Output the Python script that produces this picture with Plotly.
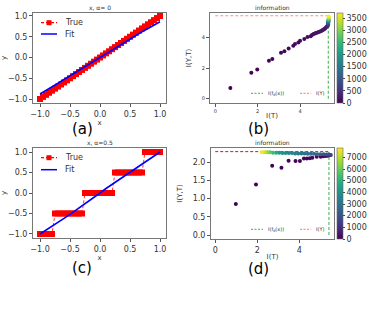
import plotly.graph_objects as go

W, H = 378, 315

# ---------------- data ----------------
x_grid = [-1.0, -0.95, -0.9, -0.85, -0.8, -0.75, -0.7, -0.65, -0.6, -0.55, -0.5, -0.45, -0.4,
          -0.35, -0.3, -0.25, -0.2, -0.15, -0.1, -0.05, 0.0, 0.05, 0.1, 0.15, 0.2, 0.25, 0.3,
          0.35, 0.4, 0.45, 0.5, 0.55, 0.6, 0.65, 0.7, 0.75, 0.8, 0.85, 0.9, 0.95, 1.0]
y_true_a = [-1.0, -0.95, -0.9, -0.85, -0.8, -0.75, -0.7, -0.65, -0.6, -0.55, -0.5, -0.45, -0.4,
            -0.35, -0.3, -0.25, -0.2, -0.15, -0.1, -0.05, 0.0, 0.05, 0.1, 0.15, 0.2, 0.25, 0.3,
            0.35, 0.4, 0.45, 0.5, 0.55, 0.6, 0.65, 0.7, 0.75, 0.8, 0.85, 0.9, 0.95, 1.0]
x_fit = [-1.0, -0.9, -0.8, -0.7, -0.6, -0.5, -0.4, -0.3, -0.2, -0.1, 0.0,
         0.1, 0.2, 0.3, 0.4, 0.5, 0.6, 0.7, 0.8, 0.9, 1.0]
y_fit_a = [-0.88, -0.80, -0.71, -0.62, -0.53, -0.44, -0.35, -0.26, -0.17, -0.09, 0.0,
           0.09, 0.18, 0.27, 0.36, 0.45, 0.54, 0.62, 0.70, 0.78, 0.86]

y_true_c = [-1.0, -1.0, -1.0, -1.0, -1.0, -0.5, -0.5, -0.5, -0.5, -0.5, -0.5, -0.5, -0.5,
            -0.5, -0.5, 0.0, 0.0, 0.0, 0.0, 0.0, 0.0, 0.0, 0.0, 0.0, 0.0, 0.5, 0.5,
            0.5, 0.5, 0.5, 0.5, 0.5, 0.5, 0.5, 0.5, 1.0, 1.0, 1.0, 1.0, 1.0, 1.0]
y_fit_c = [-1.0, -0.91, -0.82, -0.72, -0.62, -0.52, -0.42, -0.32, -0.21, -0.11, 0.0,
           0.11, 0.21, 0.32, 0.42, 0.52, 0.62, 0.72, 0.82, 0.91, 1.0]

I_T_b = [0.71, 1.70, 1.98, 2.53, 2.69, 3.10, 3.26, 3.46, 3.68, 3.76, 3.92, 4.00, 4.20, 4.35,
         4.50, 4.56, 4.63, 4.70, 4.75, 4.82, 4.88, 4.94, 5.00, 5.05, 5.10, 5.14, 5.18, 5.22,
         5.26, 5.30, 5.31, 5.32, 5.32, 5.33, 5.33, 5.34, 5.34, 5.34, 5.35, 5.35, 5.35]
I_YT_b = [0.70, 1.70, 1.91, 2.48, 2.59, 3.00, 3.09, 3.28, 3.46, 3.57, 3.67, 3.78, 3.89, 4.02,
          4.07, 4.15, 4.22, 4.25, 4.28, 4.32, 4.35, 4.38, 4.41, 4.46, 4.50, 4.54, 4.58, 4.64,
          4.71, 4.75, 4.80, 4.85, 4.90, 4.95, 5.00, 5.05, 5.10, 5.15, 5.22, 5.30, 5.36]
epoch_b = [0, 10, 20, 30, 40, 50, 60, 70, 80, 90, 100, 110, 120, 130,
           140, 150, 160, 170, 180, 190, 200, 210, 220, 230, 240, 250, 260, 270,
           280, 350, 450, 600, 800, 1000, 1300, 1600, 2000, 2400, 2900, 3300, 3700]
I_Y_b = 5.41
I_f_b = 5.33

I_T_d = [0.98, 1.94, 2.71, 3.15, 3.49, 3.82, 4.03, 4.22, 4.36, 4.50, 4.62, 4.83, 5.02, 5.15,
         5.26, 5.35, 5.45,
         5.50, 5.40, 5.30, 5.15, 5.00, 4.85, 4.70, 4.55, 4.40, 4.25, 4.10, 3.95, 3.80, 3.65,
         3.50, 3.35, 3.20, 3.05, 2.90, 2.75, 2.60, 2.50, 2.40, 2.30, 2.22]
I_YT_d = [0.85, 1.39, 1.90, 1.85, 2.04, 2.03, 2.03, 2.10, 2.10, 2.11, 2.12, 2.15, 2.15, 2.16,
          2.17, 2.18, 2.19,
          2.20, 2.21, 2.21, 2.22, 2.22, 2.22, 2.23, 2.23, 2.23, 2.24, 2.24, 2.24, 2.24, 2.25,
          2.25, 2.25, 2.25, 2.26, 2.26, 2.26, 2.27, 2.27, 2.27, 2.27, 2.27]
epoch_d = [0, 10, 20, 30, 40, 50, 60, 70, 80, 90, 100, 120, 140, 160,
           180, 200, 250,
           1500, 1700, 1900, 2100, 2300, 2500, 2700, 2800, 2900, 3000, 3100, 3200, 3300, 3400,
           3600, 3800, 4000, 4300, 4700, 5300, 5800, 6300, 6800, 7300, 7700]
I_Y_d = 2.29
I_f_d = 5.41

FONT = "DejaVu Sans"
TXT = "#333333"


def fx(p):
    return p / W


def fy(p):
    return 1 - p / H


fig = go.Figure()

# (a)
fig.add_trace(go.Scatter(x=x_grid, y=y_true_a, mode="lines+markers", name="True",
                         line=dict(color="red", width=1.2, dash="3px,2px"),
                         marker=dict(symbol="square", size=6, color="red"),
                         xaxis="x", yaxis="y", showlegend=False))
fig.add_trace(go.Scatter(x=x_fit, y=y_fit_a, mode="lines", name="Fit",
                         line=dict(color="blue", width=1.6),
                         xaxis="x", yaxis="y", showlegend=False))
# (c)
fig.add_trace(go.Scatter(x=x_grid, y=y_true_c, mode="lines+markers", name="True",
                         line=dict(color="red", width=0.8, dash="3px,2px"),
                         marker=dict(symbol="square", size=6, color="red"),
                         xaxis="x3", yaxis="y3", showlegend=False))
fig.add_trace(go.Scatter(x=x_fit, y=y_fit_c, mode="lines", name="Fit",
                         line=dict(color="blue", width=1.6),
                         xaxis="x3", yaxis="y3", showlegend=False))

# (b)
fig.add_trace(go.Scatter(x=[0, I_f_b], y=[I_Y_b, I_Y_b], mode="lines", showlegend=False,
                         line=dict(color="rgba(255,60,60,0.6)", width=1, dash="3px,2px"),
                         xaxis="x2", yaxis="y2"))
fig.add_trace(go.Scatter(x=[I_f_b, I_f_b], y=[0, I_Y_b], mode="lines", showlegend=False,
                         line=dict(color="#3cb043", width=1, dash="3px,2px"),
                         xaxis="x2", yaxis="y2"))
fig.add_trace(go.Scatter(x=I_T_b, y=I_YT_b, mode="markers", showlegend=False,
                         marker=dict(size=4, color=epoch_b, colorscale="Viridis", cmin=0, cmax=3706,
                                     colorbar=dict(x=fx(337), xanchor="left", xpad=0, ypad=0,
                                                   y=fy(13), yanchor="top", len=90 / H,
                                                   thickness=6, outlinewidth=0.6, outlinecolor="#666",
                                                   tickvals=[0, 500, 1000, 1500, 2000, 2500, 3000, 3500],
                                                   ticktext=["0", "500", "1000", "1500", "2000", "2500", "3000", "3500"],
                                                   ticks="outside", ticklen=2,
                                                   tickfont=dict(size=8, color=TXT, family=FONT))),
                         xaxis="x2", yaxis="y2"))

# (d)
fig.add_trace(go.Scatter(x=[0, I_f_d], y=[I_Y_d, I_Y_d], mode="lines", showlegend=False,
                         line=dict(color="red", width=1, dash="3px,2px"),
                         xaxis="x4", yaxis="y4"))
fig.add_trace(go.Scatter(x=[I_f_d, I_f_d], y=[0, I_Y_d], mode="lines", showlegend=False,
                         line=dict(color="#3cb043", width=1, dash="3px,2px"),
                         xaxis="x4", yaxis="y4"))
fig.add_trace(go.Scatter(x=I_T_d, y=I_YT_d, mode="markers", showlegend=False,
                         marker=dict(size=4, color=epoch_d, colorscale="Viridis", cmin=0, cmax=7800,
                                     colorbar=dict(x=fx(337), xanchor="left", xpad=0, ypad=0,
                                                   y=fy(148), yanchor="top", len=91 / H,
                                                   thickness=6, outlinewidth=0.6, outlinecolor="#666",
                                                   tickvals=[0, 1000, 2000, 3000, 4000, 5000, 6000, 7000],
                                                   ticktext=["0", "1000", "2000", "3000", "4000", "5000", "6000", "7000"],
                                                   ticks="outside", ticklen=2,
                                                   tickfont=dict(size=8, color=TXT, family=FONT))),
                         xaxis="x4", yaxis="y4"))


def ax(domain, rng, tickvals, fmt, size, title, anchor, tsize=7, standoff=2):
    return dict(domain=domain, range=rng, tickvals=tickvals, tickformat=fmt,
                showgrid=False, zeroline=False, showline=True, mirror=True,
                linecolor="#777", linewidth=1, ticks="outside", ticklen=3, tickcolor="#555",
                tickfont=dict(size=size, color=TXT, family=FONT),
                title=dict(text=title, font=dict(size=tsize, color=TXT, family=FONT), standoff=standoff),
                anchor=anchor, automargin=False)


ab_x = [fx(33), fx(166)]
fig.update_layout(
    width=W, height=H, margin=dict(l=0, r=0, t=0, b=0, autoexpand=False),
    paper_bgcolor="white", plot_bgcolor="white",
    font=dict(family=FONT, color=TXT),
    xaxis=ax(ab_x, [-1.117, 1.1], [-1, -0.5, 0, 0.5, 1], ".1f", 8, "x", "y"),
    yaxis=ax([fy(103), fy(13)], [-1.096, 1.072], [-1, -0.5, 0, 0.5, 1], ".1f", 8, "y", "x"),
    xaxis2=ax([fx(210), fx(334)], [-0.25, 5.6], [0, 2, 4], "d", 5, "I(T)", "y2", 7, 0),
    yaxis2=ax([fy(103), fy(13)], [-0.28, 5.59], [0, 2, 4], "d", 5, "I(Y,T)", "x2", 7, 9),
    xaxis3=ax(ab_x, [-1.117, 1.1], [-1, -0.5, 0, 0.5, 1], ".1f", 8, "x", "y3"),
    yaxis3=ax([fy(238), fy(148)], [-1.098, 1.098], [-1, -0.5, 0, 0.5, 1], ".1f", 8, "y", "x3"),
    xaxis4=ax([fx(211), fx(334)], [-0.2, 5.65], [0, 2, 4], "d", 8, "I(T)", "y4", 7, 0),
    yaxis4=ax([fy(239), fy(148)], [-0.11, 2.39], [0, 0.5, 1, 1.5, 2], ".1f", 8, "I(Y,T)", "x4", 7, 9),
    showlegend=False,
)

anns = [
    dict(x=fx(99.5), y=fy(7), text="x, α= 0", font=dict(size=6)),
    dict(x=fx(99.5), y=fy(143), text="x, α=0.5", font=dict(size=6)),
    dict(x=fx(272), y=fy(7), text="information", font=dict(size=6)),
    dict(x=fx(272), y=fy(143), text="information", font=dict(size=6)),
    dict(x=fx(82), y=fy(129), text="(a)", font=dict(size=15, color="black")),
    dict(x=fx(258), y=fy(129), text="(b)", font=dict(size=15, color="black")),
    dict(x=fx(82), y=fy(268), text="(c)", font=dict(size=15, color="black")),
    dict(x=fx(258), y=fy(269), text="(d)", font=dict(size=15, color="black")),
]
shapes = []
# legends of (b) and (d)
for yy in (93.3, 229.3):
    anns.append(dict(x=fx(266), y=fy(yy), text="I(f<sub>θ</sub>(x))", xanchor="left", font=dict(size=5)))
    anns.append(dict(x=fx(314), y=fy(yy), text="I(Y)", xanchor="left", font=dict(size=5)))
    shapes.append(dict(type="line", xref="paper", yref="paper", x0=fx(251), x1=fx(263), y0=fy(yy), y1=fy(yy),
                       line=dict(color="#3cb043", width=1, dash="2px,1.5px")))
    shapes.append(dict(type="line", xref="paper", yref="paper", x0=fx(300), x1=fx(311), y0=fy(yy), y1=fy(yy),
                       line=dict(color="rgba(255,60,60,0.7)", width=1, dash="2px,1.5px")))
# legends of (a) and (c)
for yt, yf in ((22.7, 34.0), (157.7, 169.7)):
    anns.append(dict(x=fx(63), y=fy(yt), text="True", xanchor="left", font=dict(size=8)))
    anns.append(dict(x=fx(63), y=fy(yf), text="Fit", xanchor="left", font=dict(size=8)))
    shapes.append(dict(type="line", xref="paper", yref="paper", x0=fx(41), x1=fx(57), y0=fy(yt), y1=fy(yt),
                       line=dict(color="red", width=1.2, dash="3px,2px")))
    shapes.append(dict(type="rect", xref="paper", yref="paper", x0=fx(46.5), x1=fx(51.5),
                       y0=fy(yt + 2.5), y1=fy(yt - 2.5), line=dict(width=0), fillcolor="red"))
    shapes.append(dict(type="line", xref="paper", yref="paper", x0=fx(41), x1=fx(57), y0=fy(yf), y1=fy(yf),
                       line=dict(color="blue", width=1.5)))
for a in anns:
    a.setdefault("xref", "paper")
    a.setdefault("yref", "paper")
    a.setdefault("showarrow", False)
    a.setdefault("xanchor", "center")
    a.setdefault("yanchor", "middle")
    a["font"].setdefault("color", TXT)
    a["font"].setdefault("family", FONT)
fig.update_layout(annotations=anns, shapes=shapes)

fig.write_html("out.html", config={"displayModeBar": False},
               post_script="document.body.style.margin='0px';")
